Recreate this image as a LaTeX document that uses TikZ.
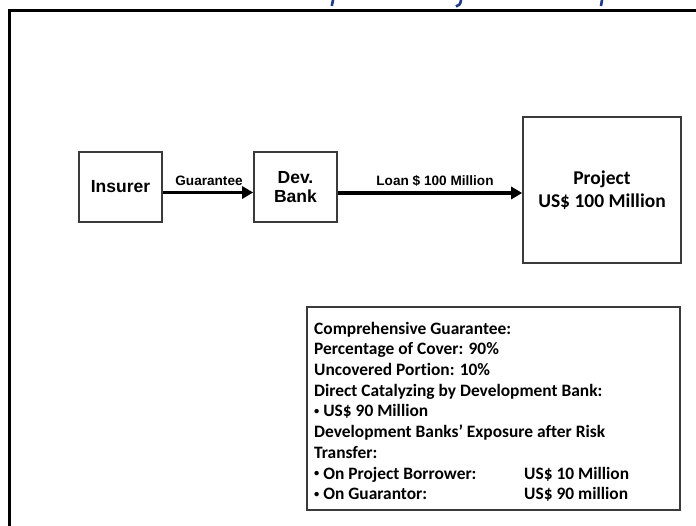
\documentclass[tikz,border=0pt]{standalone}
\usepackage{fontspec}
\setmainfont{Liberation Sans}
\newfontfamily\calib[Ligatures=NoCommon]{Carlito}
\usetikzlibrary{arrows.meta}
\definecolor{navy}{HTML}{1F3A8A}
\definecolor{boxline}{HTML}{3A3A3A}
\newcommand{\smbul}{\raisebox{0.25ex}{\scalebox{0.6}{•}}}
\tikzset{
  box/.style={draw=boxline, line width=1.6pt, fill=white, inner sep=0pt, align=center},
  arr/.style={line width=3.6pt, -{Triangle[length=11pt,width=12pt]}, black},
  lbl/.style={font=\fontsize{13.6}{15}\selectfont\bfseries, inner sep=0pt},
  info/.style={font=\calib\fontsize{17.4}{19}\selectfont\bfseries, anchor=base west, inner sep=0pt},
}
\begin{document}
\begin{tikzpicture}[x=1pt,y=-1pt]
\useasboundingbox (0,0) rectangle (696,526);
\fill[white] (0,0) rectangle (696,526);
% outer frame
\draw[line width=3pt] (9.5,526) -- (9.5,10.5) -- (696,10.5);
% cropped title descenders
\draw[navy, line width=2.6pt] (333,0) -- (331.8,6);
\draw[navy, line width=2.6pt] (461,0) .. controls (460.5,4) and (459,6) .. (456,6.5);
\draw[navy, line width=2.6pt] (602,0) -- (601,6);
% boxes
\node[box, minimum width=83pt, minimum height=70pt, font=\fontsize{17.5}{19.5}\selectfont\bfseries] (ins) at (120.5,187) {Insurer};
\node[box, minimum width=83pt, minimum height=70pt, font=\fontsize{17.5}{19.5}\selectfont\bfseries] (dev) at (295.5,187) {Dev.\\Bank};
\node[box, minimum width=158pt, minimum height=146pt, font=\calib\fontsize{19.5}{23}\selectfont\bfseries] (proj) at (602,190) {Project\\US\$ 100 Million};
% connectors
\draw[arr] ([yshift=-5.5pt]ins.east) -- ([yshift=-5.5pt]dev.west);
\draw[arr] ([yshift=-6pt]dev.east) -- ([yshift=-3pt]proj.west);
\node[lbl] (glbl) at (209,181) {Guarantee};
\node[lbl] (llbl) at (435,181) {Loan \$ 100 Million};
% info box
\node[draw=boxline, line width=1.6pt, minimum width=373pt, minimum height=203pt, inner sep=0pt] (infobox) at (493.5,408.5) {};
\node[info] (l1) at (314,334.5) {Comprehensive Guarantee:};
\node[info] (l2) at (314,355) {Percentage of Cover: 90\%};
\node[info] (l3) at (314,375.5) {Uncovered Portion: 10\%};
\node[info] (l4) at (314,396) {Direct Catalyzing by Development Bank:};
\node[info] (l5) at (314,416.5) {\smbul\ US\$ 90 Million};
\node[info] (l6) at (314,437.5) {Development Banks’ Exposure after Risk};
\node[info] (l7) at (314,458) {Transfer:};
\node[info] (l8) at (314,479) {\smbul\ On Project Borrower:};
\node[info] (l8b) at (524,479) {US\$ 10 Million};
\node[info] (l9) at (314,499.5) {\smbul\ On Guarantor:};
\node[info] (l9b) at (524,499.5) {US\$ 90 million};
\end{tikzpicture}
\end{document}
